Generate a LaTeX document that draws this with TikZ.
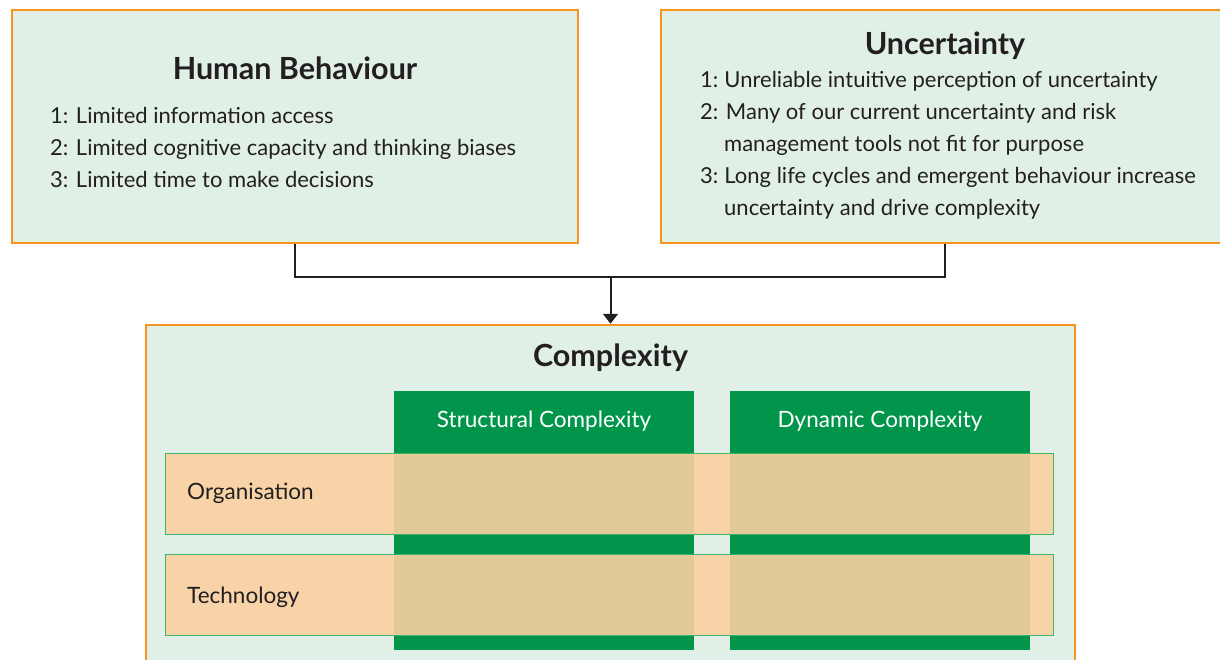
\documentclass[tikz,border=0pt]{standalone}
\usepackage{fontspec}
\setmainfont{Lato}
\usepackage{tikz}
\usetikzlibrary{positioning, arrows.meta, calc}
\usepackage{xcolor}

\definecolor{boxorange}{HTML}{F7941D}
\definecolor{boxfill}{HTML}{E1F0E6}
\definecolor{colgreen}{HTML}{00954A}
\definecolor{rowpeach}{HTML}{FAD0A1}
\definecolor{rowline}{HTML}{3DB56A}
\definecolor{inkdark}{HTML}{231F20}

\begin{document}
\begin{tikzpicture}[
    x=1pt, y=-1pt,
    every node/.style={text=inkdark},
    panel/.style={draw=boxorange, line width=2.5pt, fill=boxfill, inner sep=0pt},
    heading/.style={font=\fontsize{30.5}{34}\selectfont\bfseries},
    body/.style={font=\fontsize{22}{32}\selectfont, align=left, anchor=north west, inner sep=0pt},
    column/.style={fill=colgreen, inner sep=0pt},
    collabel/.style={text=white, font=\fontsize{22.5}{26}\selectfont},
    rowlabel/.style={font=\fontsize{22.5}{26}\selectfont, anchor=west, inner sep=0pt},
    layer/.style={fill=rowpeach, fill opacity=0.9, draw=rowline, line width=1pt, inner sep=0pt},
    link/.style={draw=inkdark, line width=2pt}
]
    \useasboundingbox (0,0) rectangle (1220,660);

    % Two driver panels on top
    \node[panel, minimum width=566pt, minimum height=233pt] (human) at (295,126.5) {};
    \node[panel, minimum width=568pt, minimum height=233pt] (uncert) at (945,126.5) {};

    \node[heading] (humanT) at (295,68) {Human Behaviour};
    \node[body] (humanL) at (50,107) {1: Limited information access\\
        2: Limited cognitive capacity and thinking biases\\
        3: Limited time to make decisions};

    \node[heading] (uncertT) at (945,46) {Uncertainty};
    \node[body] (uncertL) at (700,71) {1:\hspace{6pt}Unreliable intuitive perception of uncertainty\\
        2: Many of our current uncertainty and risk\\
        \hspace*{24pt}management tools not fit for purpose\\
        3:\hspace{6pt}Long life cycles and emergent behaviour increase\\
        \hspace*{24pt}uncertainty and drive complexity};

    % Complexity panel
    \node[panel, minimum width=929pt, minimum height=360pt] (cplx) at (610.5,505) {};
    \node[heading] (cplxT) at (610.5,358) {Complexity};

    % Columns
    \node[column, minimum width=300pt, minimum height=259pt] (structural) at (544,520.5) {};
    \node[column, minimum width=300pt, minimum height=259pt] (dynamic) at (880,520.5) {};
    \node[collabel] at (544,421) {Structural Complexity};
    \node[collabel] at (880,421) {Dynamic Complexity};

    % Rows laid over the columns
    \node[layer, minimum width=888pt, minimum height=81pt] (organisation) at (609,493.5) {};
    \node[layer, minimum width=888pt, minimum height=81pt] (technology) at (609,594.5) {};
    \node[rowlabel] at (187,493) {Organisation};
    \node[rowlabel] at (187,597) {Technology};

    % Both drivers feed into complexity
    \coordinate (join) at (610.5,277);
    \draw[link] (human.south) |- (join) -| (uncert.south);
    \draw[link, -{Triangle[length=10pt, width=15pt]}] (join) -- (cplx.north);
\end{tikzpicture}
\end{document}
